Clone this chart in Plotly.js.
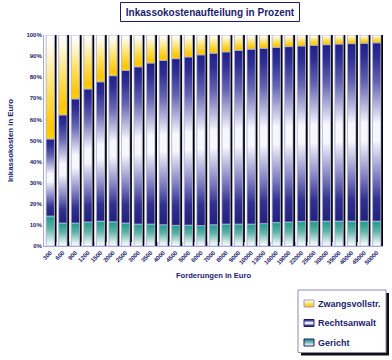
<!DOCTYPE html>
<html>
<head>
<meta charset="utf-8">
<script src="https://cdn.plot.ly/plotly-3.0.1.min.js"></script>
<style>
html,body{margin:0;padding:0;background:#fff;}
#chart{width:392px;height:360px;}
</style>
</head>
<body>
<div id="chart"></div>
<script>
// ---- data (percent shares) ----
const categories = ['300','600','900','1200','1500','2000','2500','3000','3500','4000','4500','5000','6000','7000','8000','9000','10000','13000','16000','19000','22000','25000','30000','35000','40000','45000','50000'];
const gericht = [14.2, 10.9, 10.9, 11.4, 11.8, 11.5, 10.9, 10.4, 10.4, 10.1, 9.8, 9.9, 9.7, 10.1, 10.4, 10.4, 10.4, 10.7, 11.2, 11.4, 11.7, 11.7, 11.8, 11.8, 11.8, 11.8, 11.8];
const rechtsanwalt = [36.5, 51.2, 58.8, 63.0, 66.0, 69.2, 72.3, 74.5, 76.3, 77.8, 79.0, 79.7, 80.9, 81.3, 81.6, 82.3, 82.9, 83.0, 82.9, 83.1, 83.1, 83.4, 83.6, 83.9, 84.1, 84.3, 84.5];
const zwangsvollstr = [49.3, 37.9, 30.3, 25.6, 22.2, 19.3, 16.8, 15.1, 13.3, 12.1, 11.2, 10.4, 9.4, 8.6, 8.0, 7.3, 6.7, 6.3, 5.9, 5.5, 5.2, 4.9, 4.6, 4.3, 4.1, 3.9, 3.7];
const seriesNames = ['Zwangsvollstr.', 'Rechtsanwalt', 'Gericht'];
const titleText = 'Inkassokostenaufteilung in Prozent';
const xTitle = 'Forderungen in Euro';
const yTitle = 'Inkassokosten in Euro';

// ---- styling ----
const NAVY = '#1c1c6e';
const LAV = '#a8a8dc';
const FONT = 'Liberation Sans, Arial, sans-serif';

const ML = 44, MR = 9, MT = 35, MB = 114, W = 392, H = 360;
const PW = W - ML - MR, PH = H - MT - MB;
const px = x => (x - ML) / PW;          // pixel -> paper x
const py = y => (H - MB - y) / PH;      // pixel -> paper y

const baseRA = gericht.map(g => g);
const baseZ = gericht.map((g, i) => g + rechtsanwalt[i]);
const totals = gericht.map((g, i) => g + rechtsanwalt[i] + zwangsvollstr[i]);

const BW = 0.66;
const lineStyle = {color: LAV, width: 0.8};

const data = [
  {type: 'bar', x: categories, y: totals, base: 0, width: 0.17, offset: BW / 2,
   marker: {color: '#000000', line: {width: 0}}, hoverinfo: 'skip', showlegend: false},
  {type: 'bar', name: seriesNames[2], x: categories, y: gericht, base: 0, width: BW, offset: -BW / 2,
   marker: {color: '#2a9a88', line: lineStyle}},
  {type: 'bar', name: seriesNames[1], x: categories, y: rechtsanwalt, base: baseRA, width: BW, offset: -BW / 2,
   marker: {color: '#2a2a8c', line: lineStyle}},
  {type: 'bar', name: seriesNames[0], x: categories, y: zwangsvollstr, base: baseZ, width: BW, offset: -BW / 2,
   marker: {color: '#ffc800', line: lineStyle}}
];

// legend (drawn as shapes + annotations)
const legL = 298, legR = 386, legT = 290, legB = 352.5;
const itemY = [303.5, 323, 342.5];
const shapes = [
  // title box
  {type: 'rect', xref: 'paper', yref: 'paper', x0: px(120.5), x1: px(299.5), y0: py(21.5), y1: py(2.5),
   line: {color: NAVY, width: 1}, fillcolor: 'rgba(0,0,0,0)', layer: 'below'},
  // legend shadow
  {type: 'rect', xref: 'paper', yref: 'paper', x0: px(legL + 3), x1: px(legR + 3), y0: py(legB + 3), y1: py(legT + 3),
   line: {width: 0}, fillcolor: '#111111'},
  // legend box
  {type: 'rect', xref: 'paper', yref: 'paper', x0: px(legL), x1: px(legR), y0: py(legB), y1: py(legT),
   line: {color: '#8c8cb4', width: 1}, fillcolor: '#ffffff'}
];
const iconLines = ['#9a9ac8', NAVY, NAVY];
itemY.forEach((y, i) => {
  shapes.push({type: 'rect', xref: 'paper', yref: 'paper', x0: px(304), x1: px(314), y0: py(y + 3.5), y1: py(y - 3.5),
    line: {color: iconLines[i], width: 1}, fillcolor: '#ffffff'});
});
const annotations = seriesNames.map((n, i) => ({
  text: n, xref: 'paper', yref: 'paper', x: px(316), y: py(itemY[i]), xanchor: 'left', yanchor: 'middle',
  showarrow: false, font: {family: FONT, size: 9, weight: 'bold', color: NAVY}
}));

const layout = {
  width: W, height: H,
  margin: {l: ML, r: MR, t: MT, b: MB, pad: 0},
  paper_bgcolor: '#ffffff', plot_bgcolor: '#ffffff',
  barmode: 'overlay', showlegend: false,
  title: {text: titleText, font: {family: FONT, size: 10, weight: 'bold', color: NAVY},
          xref: 'container', yref: 'container', x: 210 / W, xanchor: 'center', y: 1 - 12 / H, yanchor: 'middle'},
  xaxis: {type: 'category', range: [-0.5, categories.length - 0.5], fixedrange: true,
          tickangle: -45, tickfont: {family: FONT, size: 6, weight: 'bold', color: NAVY},
          showline: true, linecolor: LAV, linewidth: 1, showgrid: false, zeroline: false,
          ticks: 'inside', tickson: 'boundaries', ticklen: 4, tickcolor: LAV, tickwidth: 1,
          title: {text: xTitle, font: {family: FONT, size: 7.6, weight: 'bold', color: NAVY}, standoff: 7}},
  yaxis: {range: [0, 100], dtick: 10, ticksuffix: '%', fixedrange: true,
          tickfont: {family: FONT, size: 6, weight: 'bold', color: NAVY},
          showline: true, linecolor: LAV, linewidth: 1, showgrid: false, zeroline: false, ticks: '',
          title: {text: yTitle, font: {family: FONT, size: 7.8, weight: 'bold', color: NAVY}, standoff: 11}},
  shapes: shapes,
  annotations: annotations
};

function grad(defs, id, stops) {
  const ns = 'http://www.w3.org/2000/svg';
  const g = document.createElementNS(ns, 'linearGradient');
  g.setAttribute('id', id);
  g.setAttribute('x1', '0'); g.setAttribute('y1', '0');
  g.setAttribute('x2', '0'); g.setAttribute('y2', '1');
  stops.forEach(([o, c]) => {
    const s = document.createElementNS(ns, 'stop');
    s.setAttribute('offset', o);
    s.setAttribute('stop-color', c);
    g.appendChild(s);
  });
  defs.appendChild(g);
}

Plotly.newPlot('chart', data, layout, {staticPlot: true, displayModeBar: false}).then(gd => {
  const svg = gd.querySelector('.main-svg');
  let defs = svg.querySelector('defs');
  if (!defs) { defs = document.createElementNS('http://www.w3.org/2000/svg', 'defs'); svg.insertBefore(defs, svg.firstChild); }
  grad(defs, 'gradY', [[0, '#ffffff'], [0.12, '#fffbea'], [0.55, '#ffdf5a'], [0.9, '#ffc600'], [1, '#ffd400']]);
  grad(defs, 'gradB', [[0, '#20208a'], [0.08, '#2e2e92'], [0.22, '#6464b0'], [0.45, '#f6f6fc'], [0.55, '#f8f8fc'], [0.75, '#8080c0'], [0.88, '#30308e'], [1, '#22227c']]);
  grad(defs, 'gradG', [[0, '#34d8ae'], [0.07, '#2a9c8a'], [0.4, '#5eb2a6'], [0.8, '#d0e8e4'], [1, '#ffffff']]);
  const ids = [null, 'gradG', 'gradB', 'gradY'];
  const traces = gd.querySelectorAll('.barlayer .trace');
  traces.forEach((t, i) => {
    if (!ids[i]) return;
    t.querySelectorAll('path').forEach(p => { p.style.fill = 'url(#' + ids[i] + ')'; });
  });
  const iconGrads = ['gradY', 'gradB', 'gradG'];
  iconGrads.forEach((g, i) => {
    const p = gd.querySelector('.shapelayer path[data-index="' + (3 + i) + '"]');
    if (p) p.style.fill = 'url(#' + g + ')';
  });
});
</script>
</body>
</html>
